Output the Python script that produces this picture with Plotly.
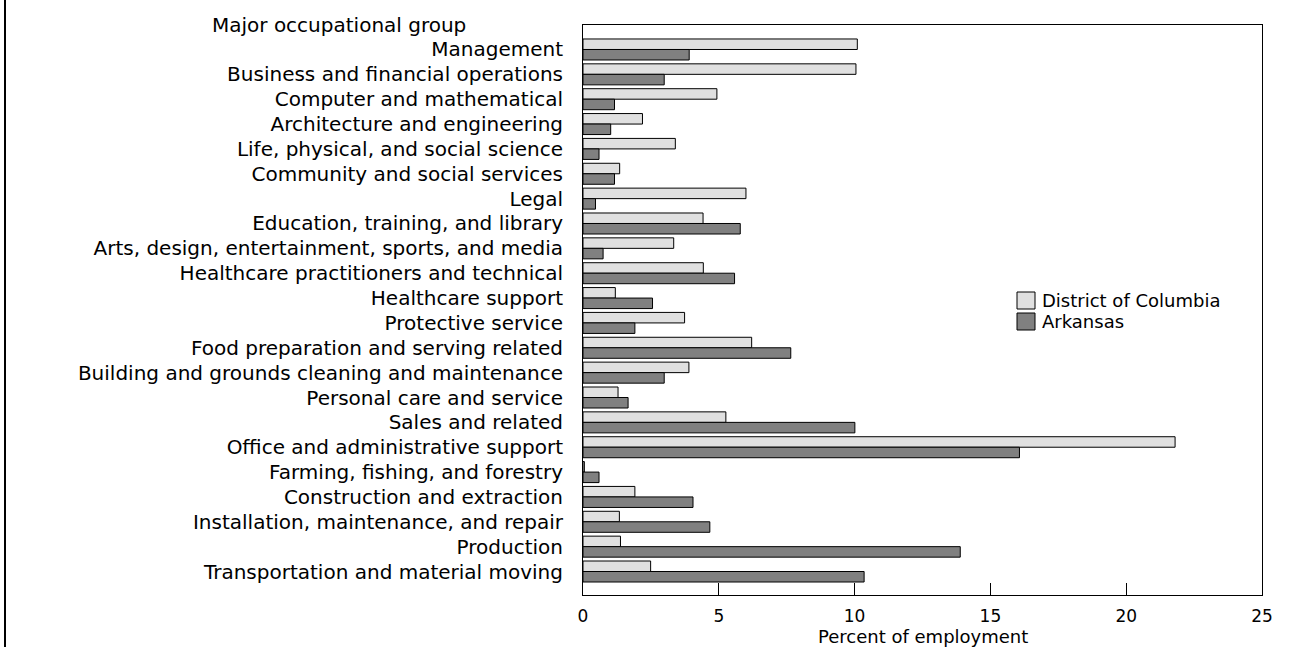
import plotly.graph_objects as go

categories = [
    "Management",
    "Business and financial operations",
    "Computer and mathematical",
    "Architecture and engineering",
    "Life, physical, and social science",
    "Community and social services",
    "Legal",
    "Education, training, and library",
    "Arts, design, entertainment, sports, and media",
    "Healthcare practitioners and technical",
    "Healthcare support",
    "Protective service",
    "Food preparation and serving related",
    "Building and grounds cleaning and maintenance",
    "Personal care and service",
    "Sales and related",
    "Office and administrative support",
    "Farming, fishing, and forestry",
    "Construction and extraction",
    "Installation, maintenance, and repair",
    "Production",
    "Transportation and material moving",
]

dc_values = [10.10, 10.05, 4.93, 2.19, 3.40, 1.35, 6.00, 4.42, 3.34, 4.43, 1.19,
             3.74, 6.21, 3.90, 1.29, 5.26, 21.80, 0.05, 1.91, 1.34, 1.38, 2.49]
ar_values = [3.91, 2.99, 1.16, 1.02, 0.59, 1.16, 0.46, 5.79, 0.74, 5.58, 2.56,
             1.91, 7.65, 2.99, 1.66, 10.01, 16.07, 0.59, 4.05, 4.67, 13.89, 10.35]

x_ticks = [0, 5, 10, 15, 20, 25]

series_names = ["District of Columbia", "Arkansas"]
series_colors = ["#e0e0e0", "#808080"]

FONT = "DejaVu Sans"

fig = go.Figure()
for name, vals, col in zip(series_names, [dc_values, ar_values], series_colors):
    fig.add_trace(go.Bar(
        y=categories, x=vals, name=name, orientation="h",
        marker=dict(color=col, line=dict(color="#000000", width=1)),
        showlegend=False,
    ))

W, H = 1296, 647
L, R, T, B = 583, 34, 25, 52
pw, ph = W - L - R, H - T - B


def px_x(p):
    return (p - L) / pw


def px_y(p):
    return (H - B - p) / ph


fig.update_layout(
    width=W, height=H,
    margin=dict(l=L, r=R, t=T, b=B, pad=0, autoexpand=False),
    paper_bgcolor="white", plot_bgcolor="white",
    barmode="group", bargap=0.155, bargroupgap=0,
    font=dict(family=FONT, size=20, color="#000000"),
    xaxis=dict(
        range=[0, 25], tickvals=x_ticks, ticktext=[str(v) for v in x_ticks],
        ticks="inside", ticklen=12, tickcolor="#000000", tickwidth=1,
        showline=True, linecolor="#000000", linewidth=1, mirror=True,
        showgrid=False, zeroline=False, automargin=False,
        tickfont=dict(family=FONT, size=17),
        ticklabelstandoff=6,
    ),
    yaxis=dict(
        type="category", categoryorder="array", categoryarray=categories,
        range=[21.945, -0.985],
        showline=True, linecolor="#000000", linewidth=1, mirror=True,
        showgrid=False, zeroline=False, ticks="", automargin=False,
        ticklabelstandoff=15,
        tickfont=dict(family=FONT, size=20),
    ),
)

shapes = []
annotations = []
# frame line on the left edge of the page
shapes.append(dict(type="line", xref="paper", yref="paper",
                   x0=px_x(5), x1=px_x(5), y0=px_y(H), y1=px_y(0),
                   line=dict(color="#000000", width=2)))
# header annotation
annotations.append(dict(text="Major occupational group", xref="paper", yref="paper",
                        x=px_x(339), y=px_y(25), xanchor="center", yanchor="middle",
                        showarrow=False, font=dict(family=FONT, size=20)))
# x-axis title
annotations.append(dict(text="Percent of employment", xref="paper", yref="paper",
                        x=0.5, y=px_y(636.5), xanchor="center", yanchor="middle",
                        showarrow=False, font=dict(family=FONT, size=18)))
# manual legend
leg_items = [(292, 309), (313, 330)]
for (y0, y1), name, col in zip(leg_items, series_names, series_colors):
    shapes.append(dict(type="rect", xref="paper", yref="paper",
                       x0=px_x(1017), x1=px_x(1035), y0=px_y(y1), y1=px_y(y0),
                       fillcolor=col, line=dict(color="#000000", width=1)))
    annotations.append(dict(text=name, xref="paper", yref="paper",
                            x=px_x(1040), y=px_y((y0 + y1) / 2),
                            xanchor="left", yanchor="middle", showarrow=False,
                            font=dict(family=FONT, size=18)))

fig.update_layout(shapes=shapes, annotations=annotations)

fig.write_html(
    "out.html",
    config={"displayModeBar": False},
    post_script="document.body.style.margin='0px';document.body.style.overflow='hidden';",
)
